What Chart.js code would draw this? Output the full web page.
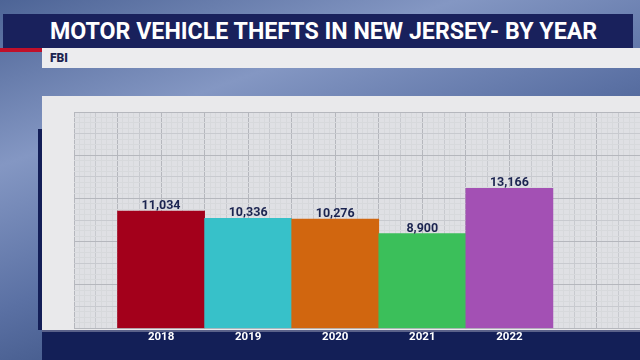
<!DOCTYPE html>
<html>
<head>
<meta charset="utf-8">
<script src="https://cdn.jsdelivr.net/npm/chart.js@4.4.1/dist/chart.umd.min.js"></script>
<style>
  html, body { margin: 0; padding: 0; }
  body { width: 640px; height: 360px; overflow: hidden; position: relative;
    background: linear-gradient(160deg, #4d6496 0%, #8497c3 28%, #5b71a4 52%, #3f5586 70%, #7d92c0 100%);
    font-family: Roboto, "Open Sans", sans-serif; }
  .title { position: absolute; left: 3px; top: 14px; width: 630px; height: 34px; background: #19215c; }
  .title span { position: absolute; left: 47px; top: 3px; color: #fff; font-weight: 700; font-size: 24px;
    line-height: 28px; white-space: nowrap; transform-origin: 0 50%; }
  .red { position: absolute; left: 0; top: 48px; width: 42px; height: 4px; background: #c0102a; }
  .sub { position: absolute; left: 42px; top: 48px; width: 598px; height: 20px; background: #ececee; }
  .sub span { position: absolute; left: 8px; top: 3px; font-weight: 900; font-size: 12px; color: #1b2450; }
  .panel { position: absolute; left: 42px; top: 96px; width: 598px; height: 234px; background: #e9e9eb; }
  .leftbar { position: absolute; left: 38px; top: 129px; width: 4px; height: 201px; background: #131e57; }
  .band { position: absolute; left: 42px; top: 330px; width: 598px; height: 30px; background: #131f57;
    border-top: 2px solid #5a6189; box-sizing: border-box; }
  #wrap { position: absolute; left: 0; top: 0; width: 640px; height: 360px; }
</style>
</head>
<body>
<div class="title"><span id="ttl">MOTOR VEHICLE THEFTS IN NEW JERSEY- BY YEAR</span></div>
<div class="red"></div>
<div class="sub"><span>FBI</span></div>
<div class="panel"></div>
<div class="leftbar"></div>
<div class="band"></div>
<div id="wrap"><canvas id="chart"></canvas></div>
<script>
const years = [2018, 2019, 2020, 2021, 2022];
const thefts = [11034, 10336, 10276, 8900, 13166];
const barColors = ['#a3001b', '#37c1c9', '#d1660f', '#3bbf5a', '#a350b4'];

const yMax = 20350;
const yStep = yMax / 5;

// squeeze the title to the condensed width of the original
const ttl = document.getElementById('ttl');
ttl.style.transform = 'scaleX(' + (547 / ttl.offsetWidth) + ')';

function gridColor(ctx) {
    if (ctx.index % 8 === 0) return '#b5b7bd';
    if (ctx.index % 4 === 0) return '#c8cacf';
    return '#d7d9dc';
}

const plotBg = {
    id: 'plotBg',
    beforeDraw(chart) {
        const a = chart.chartArea;
        chart.ctx.save();
        chart.ctx.fillStyle = '#dfe0e4';
        chart.ctx.fillRect(a.left, a.top, a.right - a.left, a.bottom - a.top);
        chart.ctx.restore();
    }
};

const valueLabels = {
    id: 'valueLabels',
    afterDatasetsDraw(chart) {
        const ctx = chart.ctx;
        const meta = chart.getDatasetMeta(0);
        ctx.save();
        ctx.font = '700 12.5px Roboto, sans-serif';
        ctx.fillStyle = '#1b2450';
        ctx.textAlign = 'center';
        ctx.textBaseline = 'bottom';
        meta.data.forEach((bar, i) => {
            ctx.fillText(thefts[i].toLocaleString('en-US'), bar.x, bar.y + 1);
        });
        ctx.restore();
    }
};

new Chart(document.getElementById('chart'), {
    type: 'bar',
    data: {
        datasets: [{
            data: years.map((y, i) => ({ x: y, y: thefts[i] })),
            xAxisID: 'x',
            yAxisID: 'y',
            backgroundColor: barColors,
            barPercentage: 1,
            categoryPercentage: 1,
            borderWidth: 0
        }]
    },
    options: {
        responsive: true,
        maintainAspectRatio: false,
        animation: false,
        layout: { padding: { left: 74, top: 112, right: 0, bottom: 14 } },
        plugins: { legend: { display: false }, tooltip: { enabled: false } },
        scales: {
            x: {
                type: 'linear', position: 'bottom', min: 2017, max: 2023.5, offset: false,
                afterBuildTicks: s => { s.ticks = years.map(v => ({ value: v })); },
                ticks: {
                    color: '#ffffff', padding: 2, maxRotation: 0, autoSkip: false,
                    font: { family: 'Roboto', weight: '700', size: 11.5 },
                    callback: v => String(v)
                },
                grid: { display: false, drawTicks: false, offset: false },
                border: { display: false }
            },
            y: {
                min: 0, max: yMax,
                ticks: { display: false },
                grid: { display: false, drawTicks: false },
                border: { display: false }
            },
            xGrid: {
                type: 'linear', position: 'bottom', min: 2017, max: 2023.5, offset: false,
                ticks: { display: false, stepSize: 0.0625, maxTicksLimit: 200 },
                grid: { color: gridColor, drawTicks: false, offset: false },
                border: { display: false }
            },
            yGrid: {
                type: 'linear', position: 'left', min: 0, max: yMax,
                ticks: { display: false, stepSize: yStep / 8, maxTicksLimit: 200 },
                grid: { color: gridColor, drawTicks: false },
                border: { display: false }
            }
        }
    },
    plugins: [plotBg, valueLabels]
});
</script>
</body>
</html>
